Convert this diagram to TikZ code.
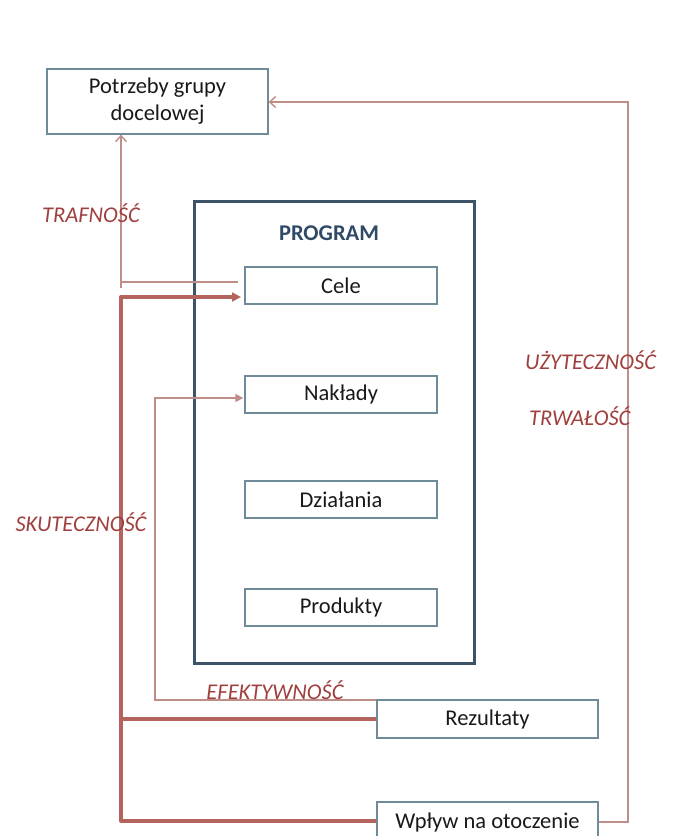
\documentclass[tikz,border=0pt]{standalone}
\usepackage{fontspec}
\setmainfont{Carlito}
\usetikzlibrary{arrows.meta,calc}

\definecolor{boxline}{HTML}{6F8A98}
\definecolor{progline}{HTML}{3D5468}
\definecolor{progtext}{HTML}{2F4A66}
\definecolor{flowthin}{HTML}{C08E88}
\definecolor{flowthick}{HTML}{B4645C}
\definecolor{labelred}{HTML}{A0403E}

\tikzset{
  stagebox/.style={draw=boxline, line width=1.3pt, fill=white, text=black!90,
    font=\fontsize{22.5}{27}\selectfont, align=center, inner sep=0pt},
  progbox/.style={draw=progline, line width=3pt, inner sep=0pt},
  thinflow/.style={draw=flowthin, line width=1.4pt},
  thickflow/.style={draw=flowthick, line width=3.3pt},
  critlabel/.style={text=labelred, font=\fontsize{22.5}{26}\selectfont\itshape, inner sep=0pt},
}

\begin{document}
\begin{tikzpicture}[x=1pt, y=-1pt]
\useasboundingbox (0,0) rectangle (683,836);
\fill[white] (0,0) rectangle (683,836);

% program frame
\node[progbox, minimum width=280pt, minimum height=462pt] (program) at (334,432) {};
\node[text=progtext, font=\fontsize{22.5}{26}\selectfont\bfseries, inner sep=0pt] (progtitle) at (329,233) {PROGRAM};

% boxes
\node[stagebox, minimum width=221pt, minimum height=65pt] (potrzeby) at (157.5,101.5) {Potrzeby grupy\\docelowej};
\node[stagebox, minimum width=192pt, minimum height=37pt] (cele) at (341,285.5) {Cele};
\node[stagebox, minimum width=192pt, minimum height=37pt] (naklady) at (341,394.5) {Nakłady};
\node[stagebox, minimum width=192pt, minimum height=37pt] (dzialania) at (341,499.5) {Działania};
\node[stagebox, minimum width=192pt, minimum height=37pt] (produkty) at (341,607.5) {Produkty};
\node[stagebox, minimum width=221pt, minimum height=38pt] (rezultaty) at (487.5,719) {Rezultaty};
\node[stagebox, minimum width=221pt, minimum height=40pt] (wplyw) at (487.5,822) {Wpływ na otoczenie};

% corner points of the connectors
\coordinate (trBot) at (121,288);
\coordinate (trJoin) at (121,282);
\coordinate (trEnd) at (238,282);
\coordinate (skBot) at (121,821);
\coordinate (skTop) at (121,297);
\coordinate (skTip) at (241,297);
\coordinate (skRez) at (121,719);
\coordinate (efBot) at (155,700);
\coordinate (efTop) at (155,398);
\coordinate (uzBot) at (628,822);
\coordinate (uzTop) at (628,102);

% trafność
\draw[thinflow] (trJoin) -- (trEnd);
\draw[thinflow, -{Straight Barb[length=6pt,width=11pt]}] (trBot) -- (trBot |- potrzeby.south);

% skuteczność
\draw[thickflow, line join=round, -{Triangle[length=9pt,width=9pt]}] (wplyw.west |- skBot) -- (skBot) -- (skTop) -- (skTip);
\draw[thickflow] (rezultaty.west) -- (skRez);

% efektywność
\draw[thinflow, -{Triangle[length=8pt,width=8pt]}] (efBot -| rezultaty.west) -- (efBot) -- (efTop) -- ($(naklady.west |- efTop)+(-1,0)$);

% użyteczność / trwałość
\draw[thinflow, -{Straight Barb[length=6pt,width=11pt]}] (wplyw.east) -- (uzBot) -- (uzTop) -- (uzTop -| potrzeby.east);

% labels
\node[critlabel] (lTraf) at (91,213) {TRAFNOŚĆ};
\node[critlabel] (lSkut) at (81,522) {SKUTECZNOŚĆ};
\node[critlabel] (lEfek) at (275,690) {EFEKTYWNOŚĆ};
\node[critlabel, anchor=west] (lUzyt) at (525,360) {UŻYTECZNOŚĆ};
\node[critlabel, anchor=west] (lTrwa) at (529,416) {TRWAŁOŚĆ};
\end{tikzpicture}
\end{document}
